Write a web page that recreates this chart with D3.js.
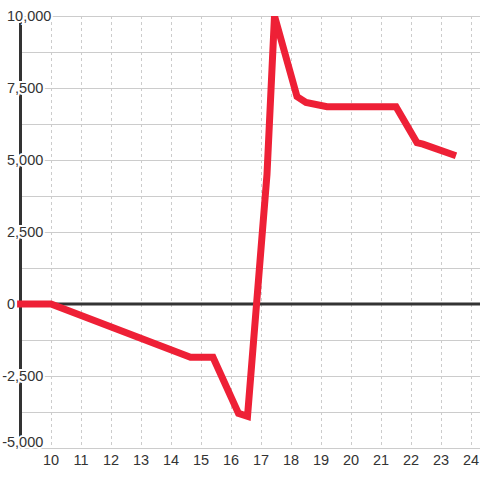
<!DOCTYPE html>
<html>
<head>
<meta charset="utf-8">
<script src="https://cdn.jsdelivr.net/npm/d3@7"></script>
<style>
  body { margin: 0; background: #fff; }
  svg { display: block; font-family: "Liberation Sans", Arial, sans-serif; }
</style>
</head>
<body>
<div id="chart"></div>
<script>
'use strict'

// series
const xValues = [8.87, 10, 14.65, 15.4, 16.25, 16.55, 17.2, 17.45, 18.2, 18.5, 19.2, 21.5, 22.2, 22.4, 23.5];
const yValues = [0, 0, -1850, -1850, -3800, -3900, 4500, 10000, 7200, 7000, 6850, 6850, 5600, 5550, 5150];

const xTicks = [10, 11, 12, 13, 14, 15, 16, 17, 18, 19, 20, 21, 22, 23, 24];
const yLabelTicks = [-5000, -2500, 0, 2500, 5000, 7500, 10000];
const yGridTicks = [-5000, -3750, -2500, -1250, 0, 1250, 2500, 3750, 5000, 6250, 7500, 8750, 10000];

const width = 480, height = 480;
const plotLeft = 20, plotTop = 16, plotBottom = 448;

let x = d3.scaleLinear().domain([10, 24]).range([51, 471]),
    y = d3.scaleLinear().domain([-5000, 10000]).range([plotBottom, plotTop]);

let fmt = d3.formatLocale({decimal: '.', thousands: ',', grouping: [3], currency: ['', ''], minus: '-'}).format(',');

let svg = d3.select('#chart')
  .append('svg')
  .attr('width', width)
  .attr('height', height);

svg.append('defs').append('clipPath')
    .attr('id', 'clip')
  .append('rect')
    .attr('x', 0)
    .attr('y', plotTop)
    .attr('width', width)
    .attr('height', height - plotTop);

// horizontal grid
svg.append('g')
  .selectAll('line')
  .data(yGridTicks)
  .join('line')
    .attr('x1', plotLeft)
    .attr('x2', width)
    .attr('y1', d => Math.round(y(d)) + 0.5)
    .attr('y2', d => Math.round(y(d)) + 0.5)
    .attr('stroke', '#cccccc')
    .attr('stroke-width', 1);

// vertical dashed grid
svg.append('g')
  .selectAll('line')
  .data(xTicks)
  .join('line')
    .attr('x1', d => Math.round(x(d)) + 0.5)
    .attr('x2', d => Math.round(x(d)) + 0.5)
    .attr('y1', plotTop)
    .attr('y2', plotBottom)
    .attr('stroke', '#cccccc')
    .attr('stroke-width', 1)
    .attr('stroke-dasharray', '3,3');

// y axis bar
svg.append('line')
  .attr('x1', plotLeft + 0.5).attr('x2', plotLeft + 0.5)
  .attr('y1', plotTop).attr('y2', plotBottom)
  .attr('stroke', '#333333')
  .attr('stroke-width', 3);

// zero line
svg.append('line')
  .attr('x1', plotLeft).attr('x2', width)
  .attr('y1', y(0)).attr('y2', y(0))
  .attr('stroke', '#333333')
  .attr('stroke-width', 3);

// y labels, left aligned with the minus hanging out; kept inside the plot at the bottom
let yl = svg.append('g')
  .attr('font-size', '14.5px')
  .attr('fill', '#333333');

let probe = yl.append('text').text('-');
let minusW = probe.node().getComputedTextLength();
probe.remove();

yl.selectAll('text')
  .data(yLabelTicks)
  .join('text')
    .attr('x', d => d < 0 ? 7 - minusW : 7)
    .attr('y', d => Math.min(y(d), plotBottom - 6))
    .attr('dy', '0.35em')
    .attr('stroke', '#ffffff')
    .attr('stroke-width', 4)
    .attr('paint-order', 'stroke')
    .text(d => fmt(d));

// x labels
svg.append('g')
  .attr('font-size', '14.5px')
  .attr('fill', '#333333')
  .attr('text-anchor', 'middle')
  .selectAll('text')
  .data(xTicks)
  .join('text')
    .attr('x', d => x(d))
    .attr('y', 460)
    .attr('dy', '0.35em')
    .text(d => d);

// series
let line = d3.line()
  .x((d, i) => x(xValues[i]))
  .y(d => y(d));

svg.append('path')
  .datum(yValues)
  .attr('clip-path', 'url(#clip)')
  .attr('d', line)
  .attr('fill', 'none')
  .attr('stroke', '#ee2036')
  .attr('stroke-width', 7)
  .attr('stroke-linejoin', 'miter');
</script>
</body>
</html>
